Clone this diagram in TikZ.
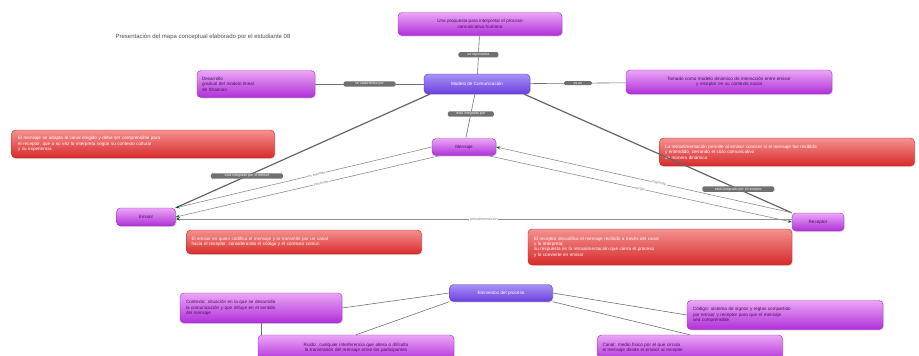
\documentclass[tikz,border=0pt]{standalone}
\usepackage{fontspec}
\setmainfont{Liberation Sans}
\usetikzlibrary{arrows.meta,shadows}
\definecolor{mgTop}{HTML}{EBA6F7}
\definecolor{mgBot}{HTML}{B02FD9}
\definecolor{mgDraw}{HTML}{9A2BC0}
\definecolor{blTop}{HTML}{A892F5}
\definecolor{blBot}{HTML}{6A3FE0}
\definecolor{blDraw}{HTML}{5A33C0}
\definecolor{rdTop}{HTML}{F59090}
\definecolor{rdBot}{HTML}{D72A2A}
\definecolor{rdDraw}{HTML}{C02525}
\definecolor{lnGray}{HTML}{707070}
\definecolor{txtDark}{HTML}{4A1060}
\begin{document}
\begin{tikzpicture}[x=1pt,y=-1pt,
  box/.style={rounded corners=4pt, inner sep=2pt, align=left,
    font=\fontsize{4.6}{5.4}\selectfont, drop shadow={opacity=0.25,shadow xshift=1pt,shadow yshift=-1pt}},
  mg/.style={box, draw=mgDraw, top color=mgTop, bottom color=mgBot, text=txtDark},
  bl/.style={box, draw=blDraw, top color=blTop, bottom color=blBot, text=white, align=center},
  rd/.style={box, draw=rdDraw, top color=rdTop, bottom color=rdBot, text=white},
  pill/.style={rounded corners=1.5pt, fill=lnGray, text=white, inner sep=1pt,
    font=\fontsize{3.6}{4}\selectfont},
  thinln/.style={draw=lnGray, line width=0.6pt},
  thickln/.style={draw=lnGray!90!black, line width=1.2pt},
  arr/.style={draw=lnGray!80, line width=0.6pt, -{Stealth[length=4pt,width=3pt,color=green!40!black]}},
  albl/.style={font=\fontsize{3.6}{4}\selectfont, text=gray, sloped, fill=white, inner sep=0.5pt}
]
\useasboundingbox (0,0) rectangle (919,356);
\clip (0,0) rectangle (919,356);

% title
\node[font=\fontsize{6}{7}\selectfont, text=black!70] (title) at (203,37)
  {Presentación del mapa conceptual elaborado por el estudiante 08};

% nodes
\node[mg, minimum width=164, minimum height=23, align=center] (top) at (480,24)
  {Una propuesta para interpretar el proceso\\ comunicativo humano};
\node[bl, minimum width=106, minimum height=20] (central) at (477,84)
  {Modelo de Comunicación};
\node[mg, minimum width=118, minimum height=27, text width=108] (left) at (256,84)
  {Desarrollo\\ gradual del modelo lineal\\ de Shannon};
\node[mg, minimum width=206, minimum height=24, text width=190, align=center] (right) at (729,82)
  {Tomado como modelo dinámico de interacción entre emisor\\ y receptor en su contexto social};
\node[rd, minimum width=263, minimum height=28, text width=250] (redL) at (143,144)
  {El mensaje se adapta al canal elegido y debe ser comprensible para\\ el receptor, que a su vez lo interpreta según su contexto cultural\\ y su experiencia};
\node[rd, minimum width=255, minimum height=28, text width=244] (redR) at (787,152)
  {La retroalimentación permite al emisor conocer si el mensaje fue recibido\\ y entendido, cerrando el ciclo comunicativo\\ de manera dinámica};
\node[mg, minimum width=64, minimum height=17, align=center] (canal) at (464,147) {Mensaje};
\node[mg, minimum width=59, minimum height=18, align=center] (emisor) at (146,217) {Emisor};
\node[mg, minimum width=52, minimum height=18, align=center] (receptor) at (818,222) {Receptor};
\node[rd, minimum width=235, minimum height=24, text width=225] (redML) at (304,242)
  {El emisor es quien codifica el mensaje y lo transmite por un canal\\ hacia el receptor, considerando el código y el contexto común};
\node[rd, minimum width=264, minimum height=36, text width=252] (redMR) at (660,247)
  {El receptor decodifica el mensaje recibido a través del canal\\ y lo interpreta;\\ su respuesta es la retroalimentación que cierra el proceso\\ y lo convierte en emisor};
\node[bl, minimum width=103, minimum height=17] (bottom) at (501,293) {Elementos del proceso};
\node[mg, minimum width=162, minimum height=30, text width=150] (bL) at (261,308)
  {Contexto: situación en la que se desarrolla\\ la comunicación y que influye en el sentido\\ del mensaje};
\node[mg, minimum width=196, minimum height=29, text width=184] (bR) at (785,315)
  {Código: sistema de signos y reglas compartido\\ por emisor y receptor para que el mensaje\\ sea comprensible};
\node[mg, minimum width=196, minimum height=26, text width=184, align=center] (bLL) at (356,348)
  {Ruido: cualquier interferencia que altera o dificulta\\ la transmisión del mensaje entre los participantes};
\node[mg, minimum width=185, minimum height=26, text width=175] (bRR) at (690,348)
  {Canal: medio físico por el que circula\\ el mensaje desde el emisor al receptor};

% connectors
\draw[thinln] (top) -- node[pill, minimum width=40] (p1) {se representa} (central);
\draw[thinln] (central) -- node[pill, minimum width=52] (p2) {se caracteriza por} (left);
\draw[thinln] (central) -- node[pill, minimum width=28] (p3) {es un} (right);
\draw[thinln] (central) -- node[pill, minimum width=46, pos=0.45] (p4) {está integrado por} (canal);
\draw[thickln] (central.south west) ++(6,0) coordinate (cA) (cA) -- node[pill, pos=0.72, minimum width=72] (p5) {está integrado por el emisor} (emisor.north east);
\draw[thickln] (central.south east) ++(-6,0) coordinate (cB) (cB) -- node[pill, pos=0.8, minimum width=72] (p6) {está integrado por el receptor} (receptor.north west);

% triangle arrows
\draw[arr] (canal.west) -- node[albl, pos=0.45] {es enviado} (emisor.north east);
\draw[arr] (canal.south west) ++(8,0) coordinate (cC) (cC) -- node[albl, pos=0.45] {transmite} (emisor.east);
\draw[arr] (receptor.north west) -- node[albl, pos=0.45] {responde} (canal.east);
\draw[arr] (canal.south east) ++(-8,0) coordinate (cD) (cD) -- node[albl, pos=0.5] {recibe} (receptor.west);
\draw[arr] (receptor.west) ++(0,-3) coordinate (cE) (emisor.east) ++(0,2) coordinate (cF)
  (cE) -- node[albl, pos=0.5] {retroalimentación} (cF);

% bottom cluster
\draw[thinln] (bottom.west) -- (bL.east);
\draw[thinln] (bottom.south west) -- (bLL.north);
\draw[thinln] (bL.south) -- (bL.south |- bLL.north);
\draw[thinln] (bottom.east) -- (bR.west);
\draw[thinln] (bottom.south east) -- (bRR.north);
\end{tikzpicture}
\end{document}
